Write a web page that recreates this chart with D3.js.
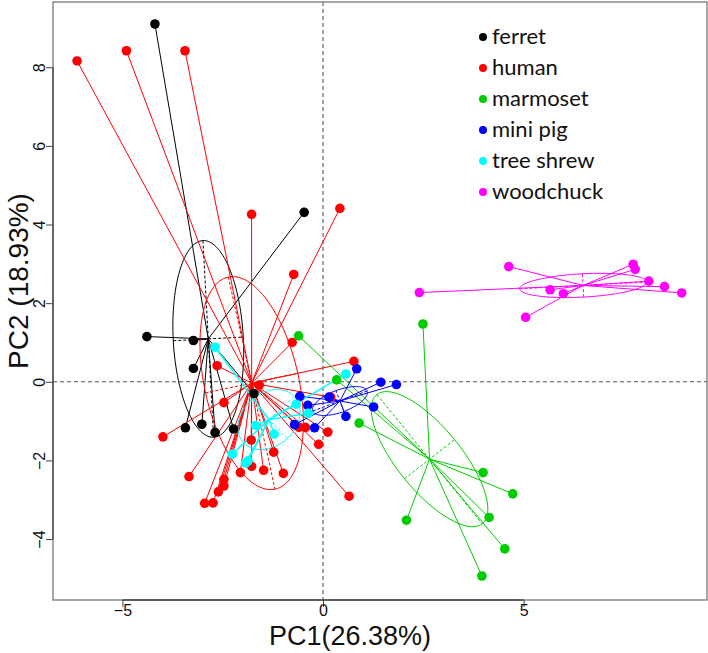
<!DOCTYPE html>
<html><head><meta charset="utf-8">
<script src="https://cdn.jsdelivr.net/npm/d3@7"></script>
<style>body{margin:0;background:#fff}svg{display:block}</style>
</head><body>
<script>
const groups = ["ferret","human","marmoset","mini pig","tree shrew","woodchuck"];
const colors = ["#000000","#FF0000","#00CD00","#0000FF","#00FFFF","#FF00FF"];

const ferretX = [-4.19,-0.47,-4.39,-3.23,-3.23,-3.43,-3.02,-2.69,-2.23,-1.72];
const ferretY = [9.10,4.31,1.15,1.05,0.34,-1.17,-1.08,-1.29,-1.20,-0.30];

const humanX = [-6.13,-4.90,-3.44,-1.78,0.42,-0.73,-0.77,-2.64,-1.59,0.77,0.19,-2.47,-3.99,-0.60,-0.44,0.12,-0.11,-1.79,-1.23,-1.78,-2.06,-1.48,-0.99,-3.34,-2.47,-2.47,-2.61,-2.95,-2.74,0.65];
const humanY = [8.16,8.42,8.42,4.26,4.41,2.73,1.00,0.41,-0.08,0.52,-0.39,-0.53,-1.40,-1.16,-1.16,-1.28,-1.59,-1.48,-1.79,-2.15,-2.31,-2.25,-2.33,-2.41,-2.48,-2.65,-2.80,-3.09,-3.08,-2.91];

const marmosetX = [2.49,-0.61,0.34,0.90,3.99,4.73,4.14,2.08,4.53,3.96];
const marmosetY = [1.47,1.17,0.05,-1.05,-2.31,-2.85,-3.45,-3.52,-4.25,-4.94];

const minipigX = [0.84,1.44,1.83,-0.58,0.15,-0.38,1.26,0.57,-0.71,-0.21];
const minipigY = [0.33,-0.01,-0.07,-0.37,-0.39,-0.60,-0.64,-0.88,-1.09,-1.17];

const treeshrewX = [-2.69,0.57,-0.67,-0.37,-1.68,-1.22,-2.26,-1.93,-1.87];
const treeshrewY = [0.88,0.20,-0.57,-0.80,-1.11,-1.33,-1.84,-2.07,-2.01];

const woodchuckX = [4.63,7.73,7.78,8.12,8.51,8.94,2.40,5.66,5.99,5.05];
const woodchuckY = [2.93,2.99,2.86,2.56,2.42,2.26,2.27,2.34,2.24,1.64];

const xTicks = [-5,0,5];
const yTicks = [-4,-2,0,2,4,6,8];
const xTitle = "PC1(26.38%)";
const yTitle = "PC2 (18.93%)";

const seriesX = [ferretX,humanX,marmosetX,minipigX,treeshrewX,woodchuckX];
const seriesY = [ferretY,humanY,marmosetY,minipigY,treeshrewY,woodchuckY];

const W = 708, H = 653;
const L = 53, R = 707, T = 2, B = 600;
const x = d3.scaleLinear().domain([-6.73, 9.57]).range([L, R]);
const y = d3.scaleLinear().domain([-5.55, 9.66]).range([B, T]);
const ellK = 0.8;

const svg = d3.select("body").append("svg").attr("width", W).attr("height", H);

svg.append("line").attr("x1", x(0)).attr("x2", x(0)).attr("y1", T).attr("y2", B)
  .attr("stroke", "#555").attr("stroke-width", 1.1).attr("stroke-dasharray", "4,3");
svg.append("line").attr("x1", L).attr("x2", R).attr("y1", y(0)).attr("y2", y(0))
  .attr("stroke", "#555").attr("stroke-width", 1.1).attr("stroke-dasharray", "4,3");

const stats = seriesX.map((xs, gi) => {
  const ys = seriesY[gi];
  const n = xs.length;
  const mx = d3.mean(xs), my = d3.mean(ys);
  let sxx = 0, syy = 0, sxy = 0;
  for (let i = 0; i < n; i++) {
    sxx += (xs[i]-mx)**2; syy += (ys[i]-my)**2; sxy += (xs[i]-mx)*(ys[i]-my);
  }
  sxx /= n; syy /= n; sxy /= n;
  const tr = sxx + syy, det = sxx*syy - sxy*sxy;
  const disc = Math.sqrt(Math.max(0, tr*tr/4 - det));
  const l1 = tr/2 + disc, l2 = Math.max(0, tr/2 - disc);
  let v1;
  if (Math.abs(sxy) > 1e-12) v1 = [l1 - syy, sxy]; else v1 = sxx >= syy ? [1,0] : [0,1];
  const nv = Math.hypot(v1[0], v1[1]);
  v1 = [v1[0]/nv, v1[1]/nv];
  const v2 = [-v1[1], v1[0]];
  return {mx, my, a: ellK*Math.sqrt(l1), b: ellK*Math.sqrt(l2), v1, v2};
});

const lineGen = d3.line();
const gLines = svg.append("g");
stats.forEach((s, gi) => {
  const col = colors[gi];
  const g = gLines.append("g");
  const pts = d3.range(0, 361, 3).map(t => {
    const r = t*Math.PI/180;
    const px = s.mx + s.a*Math.cos(r)*s.v1[0] + s.b*Math.sin(r)*s.v2[0];
    const py = s.my + s.a*Math.cos(r)*s.v1[1] + s.b*Math.sin(r)*s.v2[1];
    return [x(px), y(py)];
  });
  g.append("path").attr("d", lineGen(pts)).attr("fill", "none").attr("stroke", col).attr("stroke-width", 1);
  [[s.a, s.v1], [s.b, s.v2]].forEach(([len, v]) => {
    g.append("line")
      .attr("x1", x(s.mx - len*v[0])).attr("y1", y(s.my - len*v[1]))
      .attr("x2", x(s.mx + len*v[0])).attr("y2", y(s.my + len*v[1]))
      .attr("stroke", col).attr("stroke-width", 1).attr("stroke-dasharray", "3,2");
  });
  seriesX[gi].forEach((vx, i) => {
    g.append("line")
      .attr("x1", x(s.mx)).attr("y1", y(s.my))
      .attr("x2", x(vx)).attr("y2", y(seriesY[gi][i]))
      .attr("stroke", col).attr("stroke-width", gi === 4 ? 1.5 : 1);
  });
});

const gPts = svg.append("g");
seriesX.forEach((xs, gi) => {
  gPts.selectAll(null).data(xs.map((v, i) => [v, seriesY[gi][i]])).enter()
    .append("circle").attr("cx", d => x(d[0])).attr("cy", d => y(d[1]))
    .attr("r", 4.8).attr("fill", colors[gi]);
});

svg.append("rect").attr("x", L).attr("y", T).attr("width", R-L).attr("height", B-T)
  .attr("fill", "none").attr("stroke", "#777").attr("stroke-width", 1.3);

const xAxis = svg.append("g").attr("transform", `translate(0,${B})`)
  .call(d3.axisBottom(x).tickValues(xTicks).tickSize(7).tickFormat(d3.format("d")));
xAxis.select(".domain").remove();
xAxis.selectAll("line").attr("stroke", "#444");
xAxis.selectAll("text").attr("font-family", "Liberation Sans, Arial, sans-serif")
  .attr("font-size", 16).attr("fill", "#111").attr("dy", null).attr("y", 16);

const yAxis = svg.append("g").attr("transform", `translate(${L},0)`)
  .call(d3.axisLeft(y).tickValues(yTicks).tickSize(7).tickFormat(d3.format("d")));
yAxis.select(".domain").remove();
yAxis.selectAll("line").attr("stroke", "#444");
yAxis.selectAll("text").attr("font-family", "Liberation Sans, Arial, sans-serif")
  .attr("font-size", 16).attr("fill", "#111")
  .attr("x", null).attr("dy", null)
  .attr("text-anchor", "middle")
  .attr("transform", "translate(-8,0) rotate(-90)");
svg.append("line").attr("x1", L).attr("x2", L).attr("y1", y(-4)).attr("y2", y(8)).attr("stroke", "#444").attr("stroke-width", 1.3);
svg.append("line").attr("x1", x(-5)).attr("x2", x(5)).attr("y1", B).attr("y2", B).attr("stroke", "#444").attr("stroke-width", 1.3);

svg.append("text").attr("x", 350).attr("y", 645).attr("text-anchor", "middle")
  .attr("font-family", "Liberation Sans, Arial, sans-serif").attr("font-size", 27).attr("fill", "#111")
  .text(xTitle);
svg.append("text").attr("transform", "translate(28,281) rotate(-90)").attr("text-anchor", "middle")
  .attr("font-family", "Liberation Sans, Arial, sans-serif").attr("font-size", 28).attr("fill", "#111")
  .text(yTitle);

const leg = svg.append("g");
groups.forEach((name, i) => {
  const yy = 37 + i*31;
  leg.append("circle").attr("cx", 483).attr("cy", yy).attr("r", 4).attr("fill", colors[i]);
  leg.append("text").attr("x", 492).attr("y", yy + 7)
    .attr("font-family", "Lato, 'Open Sans', sans-serif").attr("font-size", 22).attr("fill", "#111")
    .text(name);
});
</script>
</body></html>
